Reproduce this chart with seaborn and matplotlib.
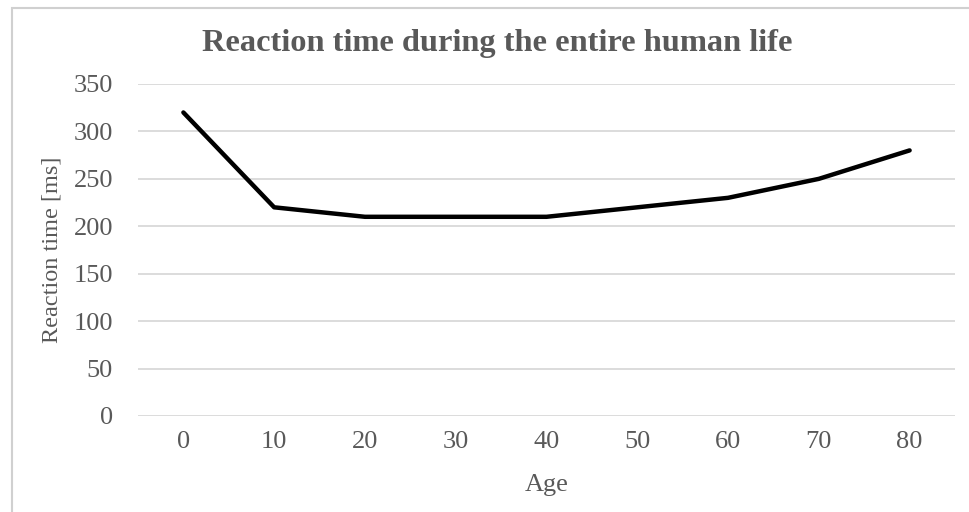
import matplotlib
matplotlib.use("Agg")
import matplotlib.pyplot as plt
import seaborn as sns
import pandas as pd
from matplotlib.patches import Rectangle

ages = ["0", "10", "20", "30", "40", "50", "60", "70", "80"]
reaction_ms = [320, 220, 210, 210, 210, 220, 230, 250, 280]
y_ticks = [0, 50, 100, 150, 200, 250, 300, 350]

sns.set_theme(style="white")
plt.rcParams['font.family'] = ['Liberation Serif', 'DejaVu Serif']

df = pd.DataFrame({"Age": ages, "Reaction": reaction_ms})

L, R, T, B = 138, 955, 84, 416
fig = plt.figure(figsize=(9.7, 5.12), dpi=100)
ax = fig.add_axes([L/970, 1-B/512, (R-L)/970, (B-T)/512])

sns.lineplot(data=df, x="Age", y="Reaction", ax=ax, color="black",
             linewidth=3.2, sort=False, solid_capstyle="round")

ax.set_xlim(-0.5, len(ages) - 0.5)
ax.set_ylim(0, 350)
ax.set_yticks(y_ticks)
ax.yaxis.grid(True, color="#d9d9d9", linewidth=1.3)
ax.xaxis.grid(False)
ax.set_axisbelow(True)
for s in ax.spines.values():
    s.set_visible(False)
ax.tick_params(axis="both", length=0, labelsize=19, labelcolor="#595959")
ax.tick_params(axis="y", pad=18)
ax.tick_params(axis="x", pad=11)
ax.set_xlabel("Age", fontsize=19, color="#595959", va="center", ha="center")
ax.set_ylabel("Reaction time [ms]", fontsize=17.5, color="#595959", va="center", ha="center")
ax.xaxis.set_label_coords(0.5, (B-485)/(B-T))
ax.yaxis.set_label_coords((52-L)/(R-L), 0.5)

fig.text(497/970, 1-44/512, "Reaction time during the entire human life",
         ha="center", va="center", fontsize=23.3, fontweight="bold", color="#595959")

fig.patches.append(Rectangle((12/970, -0.05), 1.1, 1-8/512+0.05, transform=fig.transFigure,
                             fill=False, edgecolor="#d0d0d0", linewidth=1.5, figure=fig))

fig.savefig("out.png", dpi=100, facecolor="white")
